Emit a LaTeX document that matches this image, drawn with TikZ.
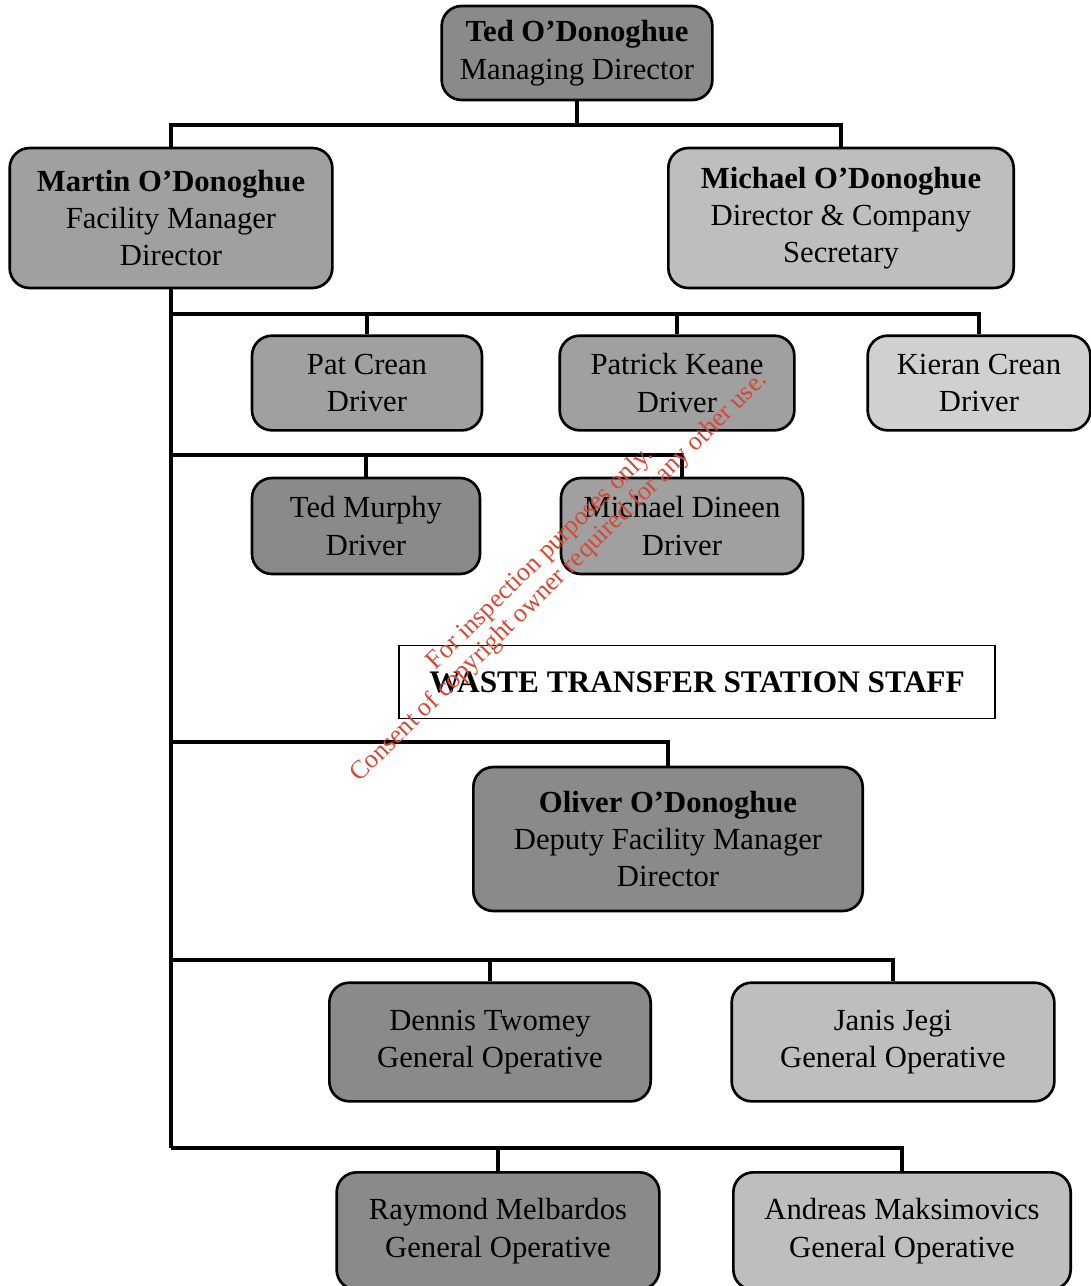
\documentclass[tikz,border=0pt]{standalone}
\usepackage{fontspec}
\setmainfont{Liberation Serif}

\definecolor{boxdark}{RGB}{138,138,138}
\definecolor{boxmid}{RGB}{160,160,160}
\definecolor{boxlight}{RGB}{190,190,190}
\definecolor{boxpale}{RGB}{208,208,208}
\definecolor{wmred}{RGB}{214,72,52}

\tikzset{
	staffbox/.style={draw, line width=2pt, rounded corners=15pt, align=center, inner sep=2pt,
		font=\fontsize{23}{28}\selectfont},
	conn/.style={line width=3.6pt},
	titlebox/.style={draw, line width=1.2pt, align=center,
		font=\fontsize{23.5}{27}\selectfont\bfseries}}
\tikzset{every picture/.style={line width=0.75pt}}

\begin{document}
\begin{tikzpicture}[x=0.75pt,y=0.75pt,yscale=-1,xscale=1]
\useasboundingbox (0,0) rectangle (1091,1286);

% Directors
\node [staffbox, fill=boxdark, minimum width=203pt, minimum height=70.5pt] (ted) at (577,53) {\textbf{Ted O'Donoghue}\\Managing Director};
\node [staffbox, fill=boxmid, minimum width=242pt, minimum height=105pt] (martin) at (171,218) {\textbf{Martin O'Donoghue}\\Facility Manager\\Director};
\node [staffbox, fill=boxlight, minimum width=259pt, minimum height=105pt] (michael) at (841,218) {\textbf{Michael O'Donoghue}\\Director \& Company\\Secretary};

% Drivers
\node [staffbox, fill=boxmid, minimum width=172.5pt, minimum height=71pt] (pat) at (367,383) {Pat Crean\\Driver};
\node [staffbox, fill=boxmid, minimum width=176pt, minimum height=71pt] (patrick) at (677,383) {Patrick Keane\\Driver};
\node [staffbox, fill=boxpale, minimum width=167pt, minimum height=71pt] (kieran) at (979,383) {Kieran Crean\\Driver};
\node [staffbox, fill=boxdark, minimum width=171pt, minimum height=72pt] (murphy) at (366,526) {Ted Murphy\\Driver};
\node [staffbox, fill=boxmid, minimum width=181.5pt, minimum height=72pt] (dineen) at (682,526) {Michael Dineen\\Driver};

% Text Node
\node [titlebox, minimum width=447pt, minimum height=55pt] (wts) at (697,682) {WASTE TRANSFER STATION STAFF};

% Station staff
\node [staffbox, fill=boxdark, minimum width=292pt, minimum height=108pt] (oliver) at (668,839) {\textbf{Oliver O'Donoghue}\\Deputy Facility Manager\\Director};
\node [staffbox, fill=boxdark, minimum width=241pt, minimum height=89pt] (dennis) at (490,1042) {Dennis Twomey\\General Operative};
\node [staffbox, fill=boxlight, minimum width=242pt, minimum height=89pt] (janis) at (893,1042) {Janis Jegi\\General Operative};
\node [staffbox, fill=boxdark, minimum width=242pt, minimum height=88pt] (raymond) at (498,1231) {Raymond Melbardos\\General Operative};
\node [staffbox, fill=boxlight, minimum width=253pt, minimum height=88pt] (andreas) at (902,1231) {Andreas Maksimovics\\General Operative};

% bus lines
\coordinate (top) at (577,125);
\coordinate (busa) at (171,314);
\coordinate (busb) at (171,455);
\coordinate (busc) at (171,742);
\coordinate (busd) at (171,960);
\coordinate (buse) at (171,1148);

%Straight Lines
\draw [conn] (ted.south) -- (top);
\draw [conn] (martin.north) |- (top) -| (michael.north);
\draw [conn] (martin.south) -- (buse);
\draw [conn] (busa) -| (kieran.north);
\draw [conn] (pat.north) -- (pat.north |- busa);
\draw [conn] (patrick.north) -- (patrick.north |- busa);
\draw [conn] (busb) -| (dineen.north);
\draw [conn] (murphy.north) -- (murphy.north |- busb);
\draw [conn] (busc) -| (oliver.north);
\draw [conn] (busd) -| (janis.north);
\draw [conn] (dennis.north) -- (dennis.north |- busd);
\draw [conn] (buse) -| (andreas.north);
\draw [conn] (raymond.north) -- (raymond.north |- buse);

% Watermark
\node [rotate=44.5, text=wmred, align=center, font=\fontsize{19.5}{20}\selectfont] (wm) at (550,568) {For inspection purposes only.\\Consent of copyright owner required for any other use.};

\end{tikzpicture}
\end{document}
